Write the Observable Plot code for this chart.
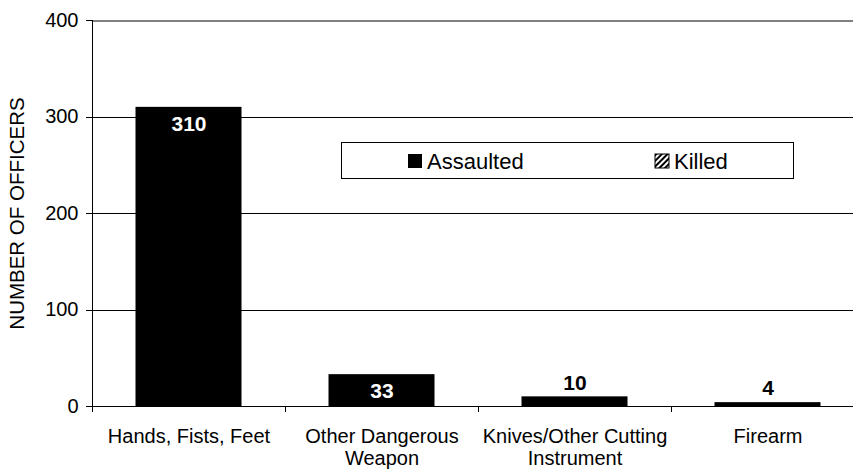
<!DOCTYPE html>
<html>
<head>
<meta charset="utf-8">
<script src="https://cdn.jsdelivr.net/npm/d3@7"></script>
<script src="https://cdn.jsdelivr.net/npm/@observablehq/plot@0.6"></script>
<style>
  html, body { margin: 0; padding: 0; background: #fff; overflow: hidden; }
  #chart { width: 853px; height: 470px; }
  svg { font-family: "Liberation Sans", Arial, sans-serif; }
</style>
</head>
<body>
<div id="chart"></div>
<script>
const categories = ["Hands, Fists, Feet", "Other Dangerous\nWeapon", "Knives/Other Cutting\nInstrument", "Firearm"];
const assaulted = [310, 33, 10, 4];
const killed = [0, 0, 0, 0];
const yTicks = [0, 100, 200, 300, 400];
const yLabel = "NUMBER OF OFFICERS";
const seriesNames = ["Assaulted", "Killed"];

const data = categories.map((c, i) => ({category: c, assaulted: assaulted[i], killed: killed[i]}));
const halfStep = (864 - 92) / categories.length / 2;

const plot = Plot.plot({
  width: 853,
  height: 470,
  marginLeft: 92,
  marginRight: 0,
  marginTop: 20,
  marginBottom: 64,
  style: {fontFamily: "'Liberation Sans', Arial, sans-serif", background: "white", overflow: "visible"},
  x: {type: "band", domain: categories, range: [92, 864], padding: 0},
  y: {domain: [0, 400]},
  marks: [
    Plot.ruleY(yTicks.filter(d => d < 400), {y: d => d, stroke: "black", strokeWidth: 1, shapeRendering: "crispEdges"}),
    Plot.ruleY(yTicks.filter(d => d === 400), {y: d => d, stroke: "#808080", strokeWidth: 2, shapeRendering: "crispEdges"}),
    Plot.ruleX([categories[0]], {x: d => d, dx: -halfStep, y1: 0, y2: 400, stroke: "black", shapeRendering: "crispEdges"}),
    Plot.ruleX(categories, {x: d => d, dx: -halfStep, y1: 0, y2: 0, insetBottom: -6, stroke: "black", shapeRendering: "crispEdges"}),
    Plot.barY(data, {x: "category", y: "assaulted", fill: "black", insetLeft: 43.5, insetRight: 43.5}),
    Plot.barY(data, {x: "category", y1: "assaulted", y2: d => d.assaulted + d.killed, fill: "url(#hatch)", insetLeft: 43.5, insetRight: 43.5}),
    Plot.text(data.filter(d => d.assaulted > 20), {x: "category", y: "assaulted", text: d => String(d.assaulted), dy: 17, fill: "white", fontWeight: "bold", fontSize: 21, lineAnchor: "middle"}),
    Plot.text(data.filter(d => d.assaulted <= 20), {x: "category", y: "assaulted", text: d => String(d.assaulted), dy: -14, fill: "black", fontWeight: "bold", fontSize: 21, lineAnchor: "middle"}),
    Plot.axisY({ticks: yTicks, tickSize: 6, tickPadding: 8, fontSize: 20, label: null, tickFormat: d => String(d), shapeRendering: "crispEdges"}),
    Plot.axisX({tickSize: 0, tickPadding: 21, fontSize: 20, label: null, lineHeight: 1.1}),
    Plot.text([yLabel], {frameAnchor: "left", dx: -75, rotate: -90, fontSize: 20.5, textAnchor: "middle", lineAnchor: "middle", text: d => d})
  ]
});

document.getElementById("chart").appendChild(plot);

const svg = d3.select(plot);
const defs = svg.insert("defs", ":first-child");
const pat = defs.append("pattern").attr("id", "hatch").attr("patternUnits", "userSpaceOnUse")
  .attr("width", 4).attr("height", 4).attr("patternTransform", "rotate(45)");
pat.append("rect").attr("width", 4).attr("height", 4).attr("fill", "white");
pat.append("rect").attr("width", 2).attr("height", 4).attr("fill", "black");

const lg = svg.append("g").attr("font-family", "'Liberation Sans', Arial, sans-serif").attr("font-size", 22)
  .attr("text-anchor", "start");
lg.append("rect").attr("x", 341.5).attr("y", 142.5).attr("width", 452).attr("height", 36)
  .attr("fill", "white").attr("stroke", "black").attr("stroke-width", 1);
const items = [{x: 408, fill: "black"}, {x: 655, fill: "url(#hatch)"}];
items.forEach((it, i) => {
  lg.append("rect").attr("x", it.x).attr("y", 154).attr("width", 14).attr("height", 14)
    .attr("fill", it.fill).attr("stroke", "black").attr("stroke-width", i === 1 ? 1 : 0);
  lg.append("text").attr("x", it.x + 19).attr("y", 168.5).attr("fill", "black").attr("text-anchor", "start").text(seriesNames[i]);
});
</script>
</body>
</html>
